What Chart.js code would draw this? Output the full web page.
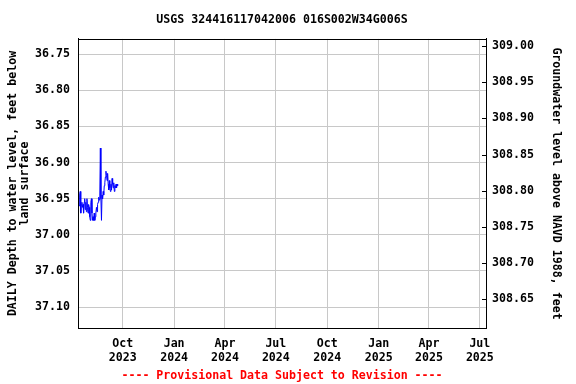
<!DOCTYPE html>
<html>
<head>
<meta charset="utf-8">
<script src="https://cdn.jsdelivr.net/npm/chart.js@4.4.0/dist/chart.umd.min.js"></script>
<style>
  html, body { margin: 0; padding: 0; background: #fff; }
  #wrap { width: 576px; height: 384px; }
</style>
</head>
<body>
<div id="wrap"><canvas id="gwChart" width="576" height="384"></canvas></div>
<script>
// daily depth to water, feet below land surface, from 2023-07-13
const firstDate = '2023-07-13';
const depthValues = [
    36.968, 36.958, 36.960, 36.945, 36.940, 36.970, 36.958, 36.955, 36.962, 36.958,
    36.970, 36.955, 36.950, 36.965, 36.955, 36.968, 36.950, 36.962, 36.970, 36.958,
    36.962, 36.975, 36.980, 36.955, 36.950, 36.970, 36.980, 36.975, 36.980, 36.970,
    36.980, 36.975, 36.970, 36.962, 36.968, 36.958, 36.955, 36.948, 36.952, 36.945,
    36.880, 36.950, 36.980, 36.945, 36.950, 36.940, 36.945, 36.932, 36.928, 36.920,
    36.912, 36.918, 36.925, 36.915, 36.930, 36.938, 36.925, 36.935, 36.940, 36.930,
    36.938, 36.922, 36.930, 36.935, 36.928, 36.940, 36.932, 36.935, 36.930, 36.935,
    36.930, 36.932
];

const xRange = ['2023-07-13', '2025-07-12'];
const tickDates = ['2023-10-01', '2024-01-01', '2024-04-01', '2024-07-01',
                   '2024-10-01', '2025-01-01', '2025-04-01', '2025-07-01'];
const tickLabels = [['Oct', '2023'], ['Jan', '2024'], ['Apr', '2024'], ['Jul', '2024'],
                    ['Oct', '2024'], ['Jan', '2025'], ['Apr', '2025'], ['Jul', '2025']];

const depthTicks = [36.75, 36.80, 36.85, 36.90, 36.95, 37.00, 37.05, 37.10];
const depthRange = [36.729, 37.129];
const elevTicks = [308.65, 308.70, 308.75, 308.80, 308.85, 308.90, 308.95, 309.00];
const datumOffset = 345.739; // elevation = offset - depth

const dayNum = (s) => Date.parse(s + 'T00:00:00Z') / 86400000;

const startDay = dayNum(firstDate);
const points = depthValues.map((v, i) => ({ x: startDay + i, y: v }));

const monoFont = { family: "'DejaVu Sans Mono', monospace", size: 11.6, weight: 'bold' };

// chart frame + short inner ticks on the right axis
const framePlugin = {
    id: 'frame',
    afterDraw(chart) {
        const { ctx, chartArea: a } = chart;
        const right = chart.scales.yRight;
        ctx.save();
        ctx.strokeStyle = '#000';
        ctx.lineWidth = 1;
        ctx.strokeRect(Math.round(a.left) + 0.5, Math.round(a.top) + 0.5,
            Math.round(a.right - a.left), Math.round(a.bottom - a.top));
        ctx.beginPath();
        elevTicks.forEach(v => {
            const y = Math.round(right.getPixelForValue(v)) + 0.5;
            ctx.moveTo(a.right - 4, y);
            ctx.lineTo(a.right, y);
        });
        ctx.stroke();
        ctx.restore();
    }
};

new Chart(document.getElementById('gwChart'), {
    type: 'line',
    data: {
        datasets: [{
            data: points,
            borderColor: '#0000ff',
            borderWidth: 1,
            pointRadius: 0,
            tension: 0,
            yAxisID: 'y'
        }]
    },
    options: {
        responsive: false,
        animation: false,
        layout: { padding: 0 },
        plugins: {
            legend: { display: false },
            tooltip: { enabled: false },
            title: {
                display: true,
                fullSize: false,
                text: 'USGS 324416117042006 016S002W34G006S',
                color: '#000',
                font: monoFont,
                padding: { top: 13, bottom: 12 }
            },
            subtitle: {
                display: true,
                fullSize: false,
                position: 'bottom',
                text: '---- Provisional Data Subject to Revision ----',
                color: '#ff0000',
                font: monoFont,
                padding: { top: 5, bottom: 1 }
            }
        },
        scales: {
            x: {
                type: 'linear',
                min: dayNum(xRange[0]),
                max: dayNum(xRange[1]),
                afterBuildTicks: (scale) => {
                    scale.ticks = tickDates.map(d => ({ value: dayNum(d) }));
                },
                afterFit: (scale) => { scale.height = 36; },
                ticks: {
                    autoSkip: false,
                    maxRotation: 0,
                    padding: 9,
                    color: '#000',
                    font: monoFont,
                    callback: (value, index) => tickLabels[index]
                },
                grid: { color: '#c8c8c8', drawTicks: false },
                border: { color: '#000' }
            },
            y: {
                type: 'linear',
                position: 'left',
                reverse: true,
                min: depthRange[0],
                max: depthRange[1],
                afterBuildTicks: (scale) => {
                    scale.ticks = depthTicks.map(v => ({ value: v }));
                },
                afterFit: (scale) => { scale.width = 78; },
                ticks: {
                    padding: 8,
                    color: '#000',
                    font: monoFont,
                    callback: (value) => value.toFixed(2)
                },
                grid: { color: '#c8c8c8', drawTicks: false },
                border: { color: '#000' },
                title: {
                    display: true,
                    text: ['DAILY Depth to water level, feet below', 'land surface'],
                    color: '#000',
                    font: { ...monoFont, lineHeight: 1.05 },
                    padding: { top: 7, bottom: 0 }
                }
            },
            yRight: {
                type: 'linear',
                position: 'right',
                min: datumOffset - depthRange[1],
                max: datumOffset - depthRange[0],
                afterBuildTicks: (scale) => {
                    scale.ticks = elevTicks.map(v => ({ value: v }));
                },
                afterFit: (scale) => { scale.width = 90; },
                ticks: {
                    padding: 6,
                    color: '#000',
                    font: monoFont,
                    callback: (value) => value.toFixed(2)
                },
                grid: { display: false, drawTicks: false },
                border: { color: '#000' },
                title: {
                    display: true,
                    text: 'Groundwater level above NAVD 1988, feet',
                    color: '#000',
                    font: { ...monoFont, lineHeight: 1.05 },
                    padding: { top: 14, bottom: 0 }
                }
            }
        }
    },
    plugins: [framePlugin]
});
</script>
</body>
</html>
